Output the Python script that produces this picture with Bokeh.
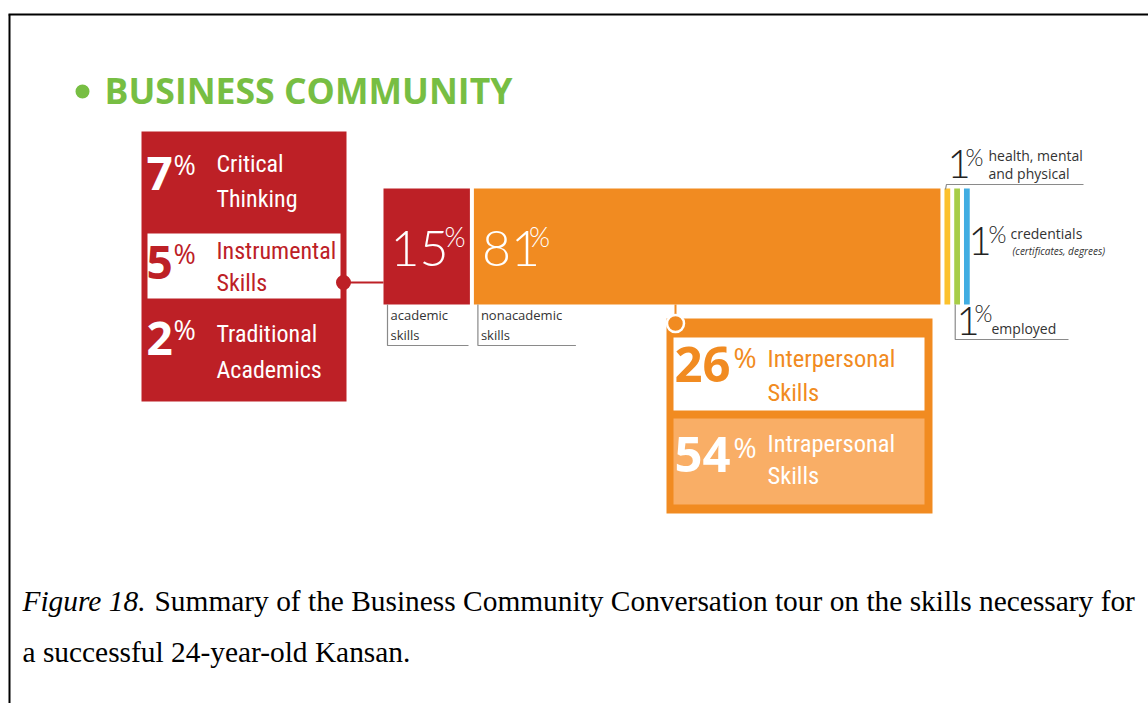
from bokeh.plotting import figure
from bokeh.models import Range1d
from bokeh.embed import file_html
from bokeh.resources import INLINE
from bokeh.core.properties import value

# ---------------- data ----------------
title = "BUSINESS COMMUNITY"
main_values = [15, 81]
main_labels = [["academic", "skills"], ["nonacademic", "skills"]]
other_values = [1, 1, 1]
other_labels = [["health, mental", "and physical"], ["credentials"], ["employed"]]
other_notes = ["", "(certificates, degrees)", ""]
academic_values = [7, 5, 2]
academic_labels = [["Critical", "Thinking"], ["Instrumental", "Skills"], ["Traditional", "Academics"]]
nonacademic_values = [26, 54]
nonacademic_labels = [["Interpersonal", "Skills"], ["Intrapersonal", "Skills"]]
caption_italic = "Figure 18."
caption_line1 = "Summary of the Business Community Conversation tour on the skills necessary for"
caption_line2 = "a successful 24-year-old Kansan."

# ---------------- style ----------------
RED = "#bd2026"
ORANGE = "#f18b21"
LIGHT_ORANGE = "#f9ae66"
YELLOW = "#fcc12c"
GREEN = "#a7cd47"
BLUE = "#41ade2"
TITLE_GREEN = "#77be43"
GRAY = "#8a8a8a"
DARK = "#333333"

SANS = "'Open Sans', sans-serif"
LIGHT = "'Lato Light', 'Open Sans Light', Lato, sans-serif"
SERIF = "'Liberation Serif', 'Times New Roman', serif"
COND = "'Roboto Condensed', 'DejaVu Sans Condensed', sans-serif"

W, H = 1148, 703
p = figure(width=W, height=H, x_range=Range1d(0, W), y_range=Range1d(H, 0),
           output_backend="svg", toolbar_location=None, min_border=0,
           x_axis_location=None, y_axis_location=None)
p.grid.visible = False
p.outline_line_color = None
p.background_fill_color = "white"
p.border_fill_color = "white"

BASE_SHIFT = 0.38  # the renderer drops alphabetic text by about this fraction of its size


def txt(xs, ys, texts, size, color, font=SANS, style="normal", align="left"):
    ys = [y - BASE_SHIFT * size for y in ys]
    p.text(x=xs, y=ys, text=texts, text_font=value(font),
           text_font_size=value(f"{size}px"), text_color=color,
           text_font_style=style, text_align=align, text_baseline="alphabetic")


# frame lines
p.segment(x0=[8, 9], y0=[14, 14], x1=[W, 9], y1=[14, H], line_color="black", line_width=2)

# title
p.scatter(x=[82], y=[91], size=14, marker="circle", fill_color=TITLE_GREEN, line_color=None)
txt([104], [103], [title], 35.6, TITLE_GREEN, SANS, "bold")

# ---------------- main bar ----------------
SCALE, GAP, X0 = 5.76, 4.0, 383.0
BAR_TOP, BAR_BOT = 188, 304
bar_vals = main_values + other_values
bar_colors = [RED, ORANGE, YELLOW, GREEN, BLUE]
lefts, rights = [], []
xc = X0
for v in bar_vals:
    lefts.append(xc)
    rights.append(xc + v * SCALE)
    xc = xc + v * SCALE + GAP
p.quad(left=lefts, right=rights, top=[BAR_TOP] * len(bar_vals), bottom=[BAR_BOT] * len(bar_vals),
       fill_color=bar_colors, line_color=None)

# big percentages inside the two main bars
txt([lefts[0] + 7, lefts[1] + 8], [267, 267], [str(v) for v in main_values], 50, "white", LIGHT)
txt([lefts[0] + 61, lefts[1] + 55], [246, 246], ["%", "%"], 27, "white", LIGHT)

# labels below with brackets
label_w = [81, 98]
for i in range(2):
    bx = lefts[i] + 4
    p.line(x=[bx, bx, bx + label_w[i]], y=[BAR_BOT, 345, 345], line_color=GRAY, line_width=1.2)
    txt([bx + 3, bx + 3], [319, 339], main_labels[i], 13, DARK, SANS)

# ---------------- small 1% items ----------------
one_x = [947, 968, 956]
one_base = [179, 256, 336]
pct_x = [965, 988, 974]
pct_base = [165, 242, 321]
lab_x = [988, 1010, 991]
lab_base = [[160, 178], [238], [333]]
for i, v in enumerate(other_values):
    txt([one_x[i]], [one_base[i]], [str(v)], 40, "#222222", LIGHT)
    txt([pct_x[i]], [pct_base[i]], ["%"], 23, "#222222", LIGHT)
    txt([lab_x[i]] * len(other_labels[i]), lab_base[i], other_labels[i], 14, DARK, SANS)
txt([1012], [254], [other_notes[1]], 10, DARK, SANS, "italic")
p.line(x=[lefts[2] + 1, lefts[2] + 2, 1083], y=[189, 184, 184], line_color=GRAY, line_width=1.2)
p.line(x=[lefts[3] + 1, lefts[3] + 1, 1068], y=[BAR_BOT, 339, 339], line_color=GRAY, line_width=1.2)

# ---------------- academic breakdown (red box) ----------------
RB_L, RB_R, RB_T, RB_B = 141, 346, 131, 401
p.quad(left=[RB_L], right=[RB_R], top=[RB_T], bottom=[RB_B], fill_color=RED, line_color=None)
p.quad(left=[RB_L + 6], right=[RB_R - 6], top=[233], bottom=[298], fill_color="white", line_color=None)
p.line(x=[343, lefts[0]], y=[282, 282], line_color=RED, line_width=2)
p.scatter(x=[343], y=[282], size=15, marker="circle", fill_color=RED, line_color=None)

row_l1 = [173, 260, 343]
row_l2 = [208, 292, 379]
row_dig = [190, 279, 355]
row_pct = [174, 263, 339]
row_col = ["white", RED, "white"]
for i, v in enumerate(academic_values):
    txt([146], [row_dig[i]], [str(v)], 46, row_col[i], SANS, "bold")
    txt([173], [row_pct[i]], ["%"], 27, row_col[i], SANS)
    txt([216, 216], [row_l1[i], row_l2[i]], academic_labels[i], 24, row_col[i], COND)

# ---------------- nonacademic breakdown (orange box) ----------------
OB_L, OB_R, OB_T, OB_B = 666, 932, 318, 513
p.line(x=[675, 675], y=[BAR_BOT, OB_T], line_color=ORANGE, line_width=2)
p.quad(left=[OB_L], right=[OB_R], top=[OB_T], bottom=[OB_B], fill_color=ORANGE, line_color=None)
p.quad(left=[673, 673], right=[924, 924], top=[337, 418], bottom=[410, 504],
       fill_color=["white", LIGHT_ORANGE], line_color=None)
p.scatter(x=[675], y=[323], size=17, marker="circle", fill_color=ORANGE, line_color="white", line_width=2.5)

orow_l1 = [367, 452]
orow_l2 = [401, 484]
orow_dig = [383, 473]
orow_pct = [367, 457]
orow_col = [ORANGE, "white"]
for i, v in enumerate(nonacademic_values):
    txt([674], [orow_dig[i]], [str(v)], 49, orow_col[i], SANS, "bold")
    txt([733], [orow_pct[i]], ["%"], 28, orow_col[i], SANS)
    txt([767, 767], [orow_l1[i], orow_l2[i]], nonacademic_labels[i], 24.5, orow_col[i], COND)

# ---------------- caption ----------------
txt([22], [612], [caption_italic], 29.4, "black", SERIF, "italic")
txt([154], [612], [caption_line1], 29.4, "black", SERIF)
txt([22], [663], [caption_line2], 29.4, "black", SERIF)

open("out.html", "w").write(file_html(p, INLINE))
